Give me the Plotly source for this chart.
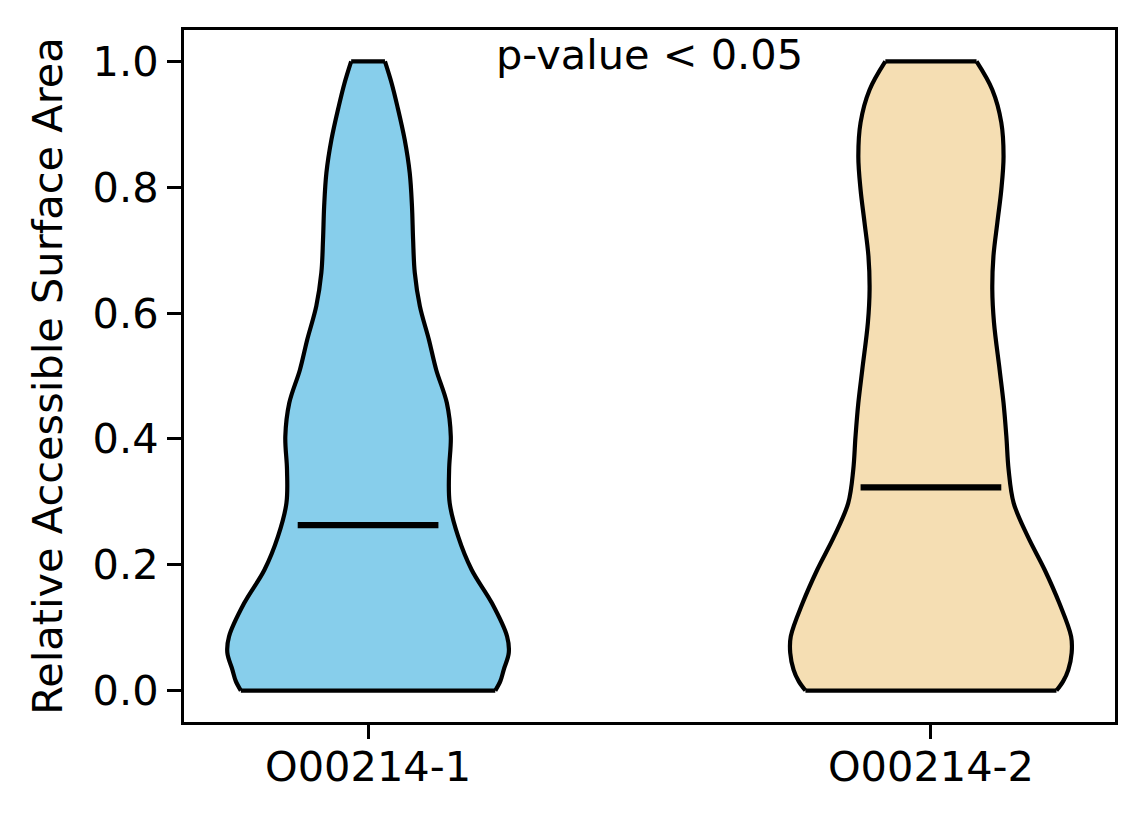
import plotly.graph_objects as go

# ---- data ----
categories = ["O00214-1", "O00214-2"]
fill_colors = ["#87CEEB", "#F5DEB3"]

# violin 1: RSA levels and half-widths (axis units, max = 0.25)
rsa_1 = [0.000, 0.015, 0.033, 0.060, 0.086, 0.139, 0.192, 0.245, 0.298, 0.351,
         0.404, 0.457, 0.510, 0.558, 0.611, 0.664, 0.717, 0.770, 0.823, 0.876,
         0.929, 0.965, 1.000]
half_1 = [0.226, 0.235, 0.241, 0.250, 0.247, 0.220, 0.184, 0.160, 0.145, 0.144,
          0.147, 0.140, 0.121, 0.108, 0.092, 0.083, 0.080, 0.078, 0.074, 0.065,
          0.052, 0.042, 0.030]

# violin 2
rsa_2 = [0.000, 0.015, 0.033, 0.060, 0.086, 0.139, 0.192, 0.245, 0.298, 0.351,
         0.404, 0.457, 0.510, 0.585, 0.638, 0.690, 0.744, 0.796, 0.849, 0.903,
         0.955, 1.000]
half_2 = [0.223, 0.235, 0.244, 0.250, 0.249, 0.228, 0.202, 0.172, 0.147, 0.138,
          0.134, 0.129, 0.122, 0.112, 0.109, 0.111, 0.118, 0.125, 0.129, 0.125,
          0.109, 0.081]

means = [0.263, 0.323]
mean_half_span = 0.125

y_ticks = [0.0, 0.2, 0.4, 0.6, 0.8, 1.0]
annotation_text = "p-value < 0.05"
y_title = "Relative Accessible Surface Area"

FONT = "DejaVu Sans"
FS = 41.5
EDGE = 4.2

fig = go.Figure()

profiles = [(rsa_1, half_1), (rsa_2, half_2)]
for i, (ys, hs) in enumerate(profiles):
    c = i
    left = [c - h for h in hs]
    right = [c + h for h in hs]
    fig.add_trace(go.Scatter(x=left, y=ys, mode="lines",
                             line=dict(color="black", width=EDGE, shape="spline", smoothing=1.0),
                             hoverinfo="skip", showlegend=False))
    fig.add_trace(go.Scatter(x=right, y=ys, mode="lines", fill="tonextx",
                             fillcolor=fill_colors[i],
                             line=dict(color="black", width=EDGE, shape="spline", smoothing=1.0),
                             hoverinfo="skip", showlegend=False))
    # flat caps at the ends of the profile
    fig.add_trace(go.Scatter(x=[left[0], right[0], None, left[-1], right[-1]],
                             y=[ys[0], ys[0], None, ys[-1], ys[-1]],
                             mode="lines", line=dict(color="black", width=EDGE),
                             hoverinfo="skip", showlegend=False))
    # mean line
    fig.add_trace(go.Scatter(x=[c - mean_half_span, c + mean_half_span],
                             y=[means[i], means[i]], mode="lines",
                             line=dict(color="black", width=6.2),
                             hoverinfo="skip", showlegend=False))

fig.add_annotation(x=0.5, y=1.011, xref="x", yref="y", text=annotation_text,
                   showarrow=False, xanchor="center", yanchor="middle",
                   font=dict(family=FONT, size=FS, color="black"))

fig.update_layout(
    width=1136, height=816,
    margin=dict(l=176, r=29, t=22, b=102),
    paper_bgcolor="white", plot_bgcolor="white",
    font=dict(family=FONT, size=FS, color="black"),
    showlegend=False,
)
fig.update_xaxes(range=[-0.327, 1.327], tickmode="array", tickvals=[0, 1],
                 ticktext=categories, showgrid=False, zeroline=False,
                 showline=True, linecolor="black", linewidth=3.3, mirror=True,
                 ticks="outside", ticklen=14, tickwidth=3.3, tickcolor="black",
                 ticklabelstandoff=-8,
                 tickfont=dict(family=FONT, size=FS))
fig.update_yaxes(range=[-0.05, 1.05], tickmode="array", tickvals=y_ticks,
                 ticktext=[f"{v:.1f}" for v in y_ticks], showgrid=False, zeroline=False,
                 showline=True, linecolor="black", linewidth=3.3, mirror=True,
                 ticks="outside", ticklen=14, tickwidth=3.3, tickcolor="black",
                 tickfont=dict(family=FONT, size=FS),
                 title=dict(text=y_title, font=dict(family=FONT, size=FS), standoff=18))

fig.write_html("out.html")
